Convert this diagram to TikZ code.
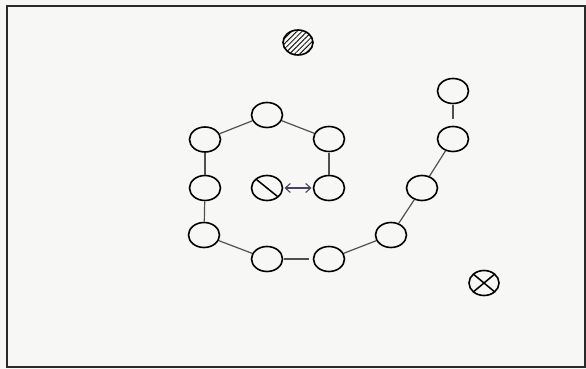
\documentclass[tikz,border=0pt]{standalone}
\usetikzlibrary{shapes.geometric,arrows.meta,patterns.meta}
\definecolor{paper}{HTML}{F7F7F5}
\definecolor{framec}{HTML}{2A2A2A}
\definecolor{linkc}{HTML}{505050}
\definecolor{arrc}{HTML}{4B4060}
\begin{document}
\begin{tikzpicture}[x=1pt,y=-1pt,
  spot/.style={ellipse,draw=black,line width=1.6pt,minimum width=31pt,minimum height=25pt,inner sep=0pt,outer sep=0pt},
  link/.style={draw=linkc,line width=1.2pt,shorten <=1pt,shorten >=1pt},
  swap/.style={draw=arrc,line width=1.1pt,shorten <=2pt,shorten >=2pt,
    {Straight Barb[length=5pt,width=9pt]}-{Straight Barb[length=5pt,width=9pt]}},
  mark line/.style={draw=black,line width=1.5pt}]
\useasboundingbox (0,0) rectangle (586,369);
\fill[paper] (0,0) rectangle (586,369);
\draw[framec,line width=1.8pt] (7,6) rectangle (585,367);

% hatched ball
\node[spot,minimum width=30pt,minimum height=25pt,
  pattern={Lines[angle=45,distance=3.6pt,line width=0.8pt]}] (ball) at (298,42.5) {};

% ring
\node[spot] (t)  at (267,115) {};
\node[spot] (ul) at (205,139.5) {};
\node[spot] (ur) at (329,139) {};
\node[spot] (ml) at (205,188) {};
\node[spot] (c)  at (267,188) {};
\node[spot] (mr) at (329,188) {};
\node[spot] (ll) at (204,235) {};
\node[spot] (b1) at (267,259) {};
\node[spot] (b2) at (329,259) {};
\node[spot] (rl) at (391,235) {};
\node[spot] (rm) at (422,188) {};
\node[spot] (ru) at (453,139) {};
\node[spot] (rt) at (453,91) {};

% crossed circle
\node[spot,minimum width=30pt,minimum height=25pt] (x) at (484,283) {};

% marks inside circles
\draw[mark line] (c.north west) -- (c.south east);
\draw[mark line] (x.north west) -- (x.south east);
\draw[mark line] (x.north east) -- (x.south west);

% connectors
\draw[link] (ul) -- (t);
\draw[link] (t) -- (ur);
\draw[link] (ur) -- (mr);
\draw[link] (ul) -- (ml);
\draw[link] (ml) -- (ll);
\draw[link] (ll) -- (b1);
\draw[link,shorten >=5pt] (b1) -- (b2);
\draw[link] (b2) -- (rl);
\draw[link] (rl) -- (rm);
\draw[link] (rm) -- (ru);
\draw[link,shorten >=8pt] (rt) -- (ru);

% swap arrow
\draw[swap] (c) -- (mr);
\end{tikzpicture}
\end{document}
